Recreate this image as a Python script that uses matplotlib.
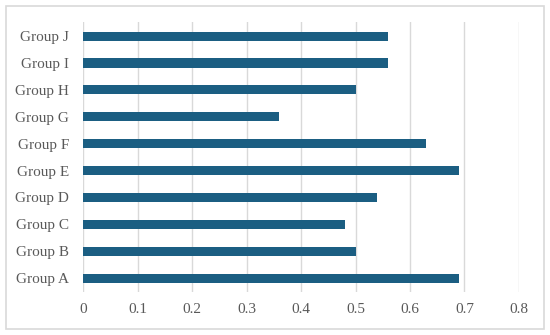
import matplotlib.pyplot as plt
from matplotlib.patches import Rectangle

groups = ['Group A', 'Group B', 'Group C', 'Group D', 'Group E',
          'Group F', 'Group G', 'Group H', 'Group I', 'Group J']
values = [0.69, 0.50, 0.48, 0.54, 0.69, 0.63, 0.36, 0.50, 0.56, 0.56]
xticks = [0, 0.1, 0.2, 0.3, 0.4, 0.5, 0.6, 0.7, 0.8]
xlabels = ['0', '0.1', '0.2', '0.3', '0.4', '0.5', '0.6', '0.7', '0.8']

plt.rcParams['font.family'] = ['Liberation Serif', 'DejaVu Serif']

fig = plt.figure(figsize=(5.5, 3.35), dpi=100)
ax = fig.add_axes([0.151, 0.128, 0.7926, 0.806])

# light outer frame
fig.patches.append(Rectangle((6/550, 6/335), 538/550, 323/335, transform=fig.transFigure,
                             fill=False, edgecolor='#d9d9d9', linewidth=1.2))

ax.barh(range(len(groups)), values, height=0.34, color='#1b5e82', zorder=3)

ax.set_xlim(0, 0.8)
ax.set_ylim(-0.52, 9.52)
ax.set_xticks(xticks)
ax.set_xticklabels(xlabels)
ax.set_yticks(range(len(groups)))
ax.set_yticklabels(groups)
ax.xaxis.grid(True, color='#d9d9d9', linewidth=1)
ax.set_axisbelow(True)
for s in ax.spines.values():
    s.set_visible(False)
ax.tick_params(axis='both', length=0, labelsize=11, colors='#595959')
ax.tick_params(axis='y', pad=10)
ax.tick_params(axis='x', pad=8)

fig.savefig('out.png', dpi=100)
